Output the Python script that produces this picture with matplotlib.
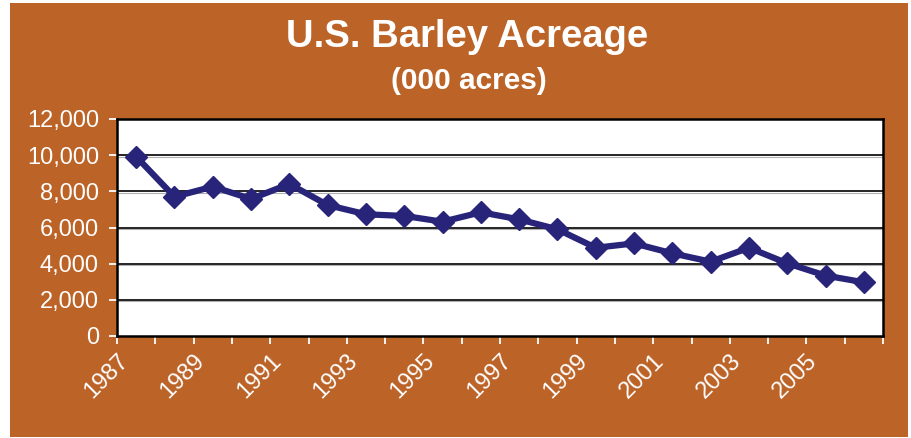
import matplotlib
matplotlib.use("Agg")
import matplotlib.pyplot as plt
import matplotlib.transforms as mtransforms
from matplotlib.patches import Rectangle
import numpy as np

years = list(range(1987, 2007))
acreage = [9920, 7700, 8260, 7580, 8410, 7240, 6730, 6640, 6320, 6840,
           6450, 5900, 4880, 5120, 4570, 4110, 4880, 4020, 3340, 2970]
yticks = [0, 2000, 4000, 6000, 8000, 10000, 12000]
xlabels = [str(y) for y in range(1987, 2007, 2)]

BG = "#BC6328"
LINE = "#28247A"

W, H = 911, 438
fig = plt.figure(figsize=(W / 100, H / 100), dpi=100, facecolor="white")
bg = Rectangle((10 / W, 1 / H), 898 / W, 434 / H,
               transform=fig.transFigure, facecolor=BG,
               edgecolor="none", zorder=-10)
fig.patches.append(bg)

ax = fig.add_axes([117 / W, (H - 336) / H, (883 - 117) / W, (336 - 119) / H])
ax.set_zorder(1)
ax.set_facecolor("white")

n = len(years)
x = np.arange(n) + 0.5
ax.set_xlim(0, n)
ax.set_ylim(0, 12000)

# gridlines with a grey shadow
shadow = mtransforms.offset_copy(ax.transData, fig=fig, x=0, y=-1.5, units="dots")
for v in yticks[1:-1]:
    ax.plot([0, n], [v, v], color="#b0b0b0", lw=0.8, transform=shadow, zorder=1)
    ax.axhline(v, color="black", lw=1.2, zorder=1.5)

ax.plot(x, acreage, color=LINE, lw=4.5, marker="D", markersize=11,
        markerfacecolor=LINE, markeredgecolor=LINE, zorder=3)

for s in ax.spines.values():
    s.set_color("black")
    s.set_linewidth(1.8)

ax.set_yticks(yticks)
ax.set_yticklabels([f"{v:,}" for v in yticks])
ax.set_xticks(np.arange(0, n + 1))
lab = []
for i in range(n + 1):
    yr = 1987 + i
    lab.append(str(yr) if str(yr) in xlabels else "")
ax.set_xticklabels(lab)

font = "Liberation Sans"
ax.tick_params(axis="both", colors="white", labelcolor="white", labelsize=17,
               length=6, width=1.3, direction="out")
for t in ax.get_yticklabels():
    t.set_fontfamily(font)
for t in ax.get_xticklabels():
    t.set_fontfamily(font)
    t.set_rotation(45)
    t.set_ha("right")
    t.set_va("top")
    t.set_rotation_mode("anchor")
ax.tick_params(axis="x", pad=4)
ax.tick_params(axis="y", pad=7)

fig.text(467 / W, (H - 37) / H, "U.S. Barley Acreage", color="white",
         fontsize=27.5, fontweight="bold", fontfamily=font,
         ha="center", va="center")
fig.text(469 / W, (H - 81) / H, "(000 acres)", color="white",
         fontsize=21.5, fontweight="bold", fontfamily=font,
         ha="center", va="center")

fig.savefig("out.png", dpi=100, facecolor="white")
